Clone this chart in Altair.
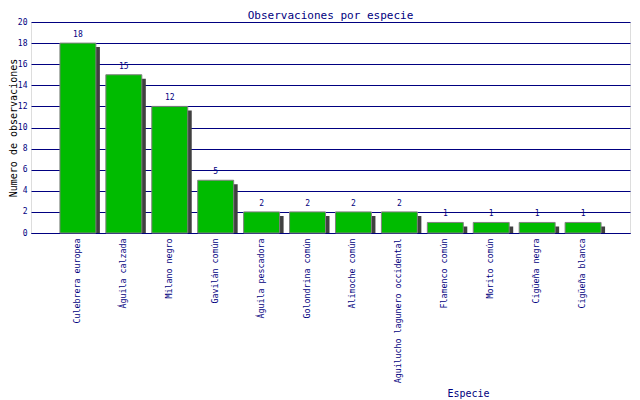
import altair as alt
import pandas as pd

especies = ["Culebrera europea", "Águila calzada", "Milano negro", "Gavilán común",
            "Águila pescadora", "Golondrina común", "Alimoche común",
            "Aguilucho lagunero occidental", "Flamenco común", "Morito común",
            "Cigüeña negra", "Cigüeña blanca"]
observaciones = [18, 15, 12, 5, 2, 2, 2, 2, 1, 1, 1, 1]
y_ticks = [0, 2, 4, 6, 8, 10, 12, 14, 16, 18, 20]

df = pd.DataFrame({"Especie": especies, "n": observaciones})

NAVY = "#000080"
MONO = "DejaVu Sans Mono"

x = alt.X("Especie:N", sort=especies,
          scale=alt.Scale(paddingInner=0.217, paddingOuter=0.63),
          axis=alt.Axis(title="Especie", labelAngle=270, labelAlign="right",
                        labelBaseline="middle", labelPadding=5, ticks=False, tickSize=0,
                        labelColor=NAVY, labelFont=MONO, labelFontSize=8.3,
                        domainColor=NAVY, domainWidth=1,
                        titleColor=NAVY, titleFont=MONO, titleFontSize=10,
                        titleFontWeight="normal", titleX=437, titleY=160,
                        titleBaseline="middle", titleAlign="center",
                        labelOverlap=False, labelLimit=0))
y = alt.Y("n:Q", scale=alt.Scale(domain=[0, 20], nice=False),
          axis=alt.Axis(title="Numero de observaciones", values=y_ticks,
                        grid=True, gridColor=NAVY, gridWidth=1, gridOpacity=1,
                        domain=False, ticks=False, tickSize=0, labelPadding=4,
                        labelColor=NAVY, labelFont=MONO, labelFontSize=8,
                        titleColor="black", titleFont=MONO, titleFontSize=10,
                        titleFontWeight="normal", titleAngle=270,
                        titleX=-18, titleY=105.5, titleAlign="center",
                        titleBaseline="middle"))

base = alt.Chart(df)
shadow = base.mark_bar(color="#404040", xOffset=4, x2Offset=4, yOffset=4, clip=True).encode(x=x, y=y)
bars = base.mark_bar(color="#00BB00", stroke="#808080", strokeWidth=1).encode(x=x, y=y)
labels = base.mark_text(color=NAVY, font=MONO, fontSize=8, baseline="middle", dy=-8).encode(
    x=x, y=y, text="n:Q")

chart = alt.layer(shadow, bars, labels).properties(
    width=599, height=211,
    title=alt.TitleParams("Observaciones por especie", font=MONO, fontSize=11,
                          color=NAVY, fontWeight="normal", anchor="middle", offset=0, dy=3),
    autosize=alt.AutoSizeParams(type="none"),
    padding={"left": 23, "top": 14, "right": 2, "bottom": 175},
).configure_view(stroke=NAVY, strokeWidth=1).configure(background="white")

chart.save("out.html", embed_options={"renderer": "svg", "actions": False})
